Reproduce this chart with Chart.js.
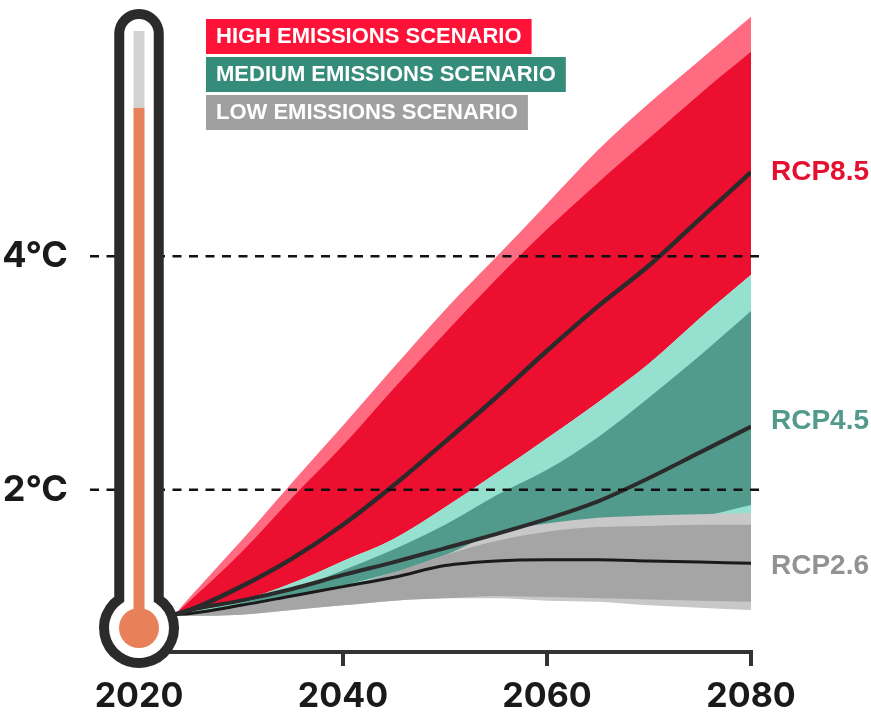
<!DOCTYPE html>
<html lang="en">
<head>
<meta charset="UTF-8">
<title>Emissions scenarios</title>
<script src="https://cdn.jsdelivr.net/npm/chart.js"></script>
<style>
    html, body { margin: 0; padding: 0; background: #fff; }
    canvas { display: block; }
</style>
</head>
<body>
<canvas id="tempChart" width="871" height="713"></canvas>
<script>
// Values in degrees C
const years = [2023.5, 2025, 2030, 2035, 2040, 2045, 2050, 2055, 2060, 2065, 2070, 2075, 2080];

const rcp85Max = [0.93, 1.08, 1.56, 2.06, 2.55, 3.05, 3.54, 3.99, 4.45, 4.91, 5.31, 5.68, 6.05];
const rcp85High = [0.93, 1.05, 1.46, 1.93, 2.38, 2.87, 3.34, 3.80, 4.23, 4.63, 5.01, 5.39, 5.75];
const rcp85Mean = [0.93, 0.97, 1.17, 1.41, 1.70, 2.04, 2.41, 2.79, 3.19, 3.57, 3.92, 4.32, 4.72];
const rcp85Low = [0.93, 0.97, 1.05, 1.20, 1.39, 1.58, 1.85, 2.14, 2.44, 2.75, 3.08, 3.47, 3.84];

const rcp45High = [0.93, 0.95, 1.03, 1.14, 1.31, 1.49, 1.70, 1.95, 2.17, 2.45, 2.79, 3.15, 3.53];
const rcp45Mean = [0.93, 0.97, 1.05, 1.15, 1.27, 1.38, 1.50, 1.62, 1.75, 1.90, 2.10, 2.32, 2.54];
const rcp45Low = [0.93, 0.94, 0.99, 1.08, 1.18, 1.29, 1.41, 1.52, 1.63, 1.70, 1.74, 1.77, 1.87];
const rcp45Min = [0.93, 0.93, 0.97, 1.03, 1.10, 1.18, 1.27, 1.40, 1.52, 1.61, 1.67, 1.74, 1.78];

const rcp26Max = [0.93, 0.95, 1.00, 1.08, 1.17, 1.29, 1.44, 1.63, 1.71, 1.76, 1.78, 1.79, 1.80];
const rcp26High = [0.93, 0.95, 1.00, 1.08, 1.17, 1.29, 1.44, 1.56, 1.64, 1.68, 1.69, 1.70, 1.70];
const rcp26Mean = [0.93, 0.94, 1.01, 1.09, 1.17, 1.25, 1.35, 1.39, 1.40, 1.40, 1.39, 1.38, 1.37];
const rcp26Low = [0.93, 0.92, 0.93, 0.97, 1.01, 1.05, 1.07, 1.09, 1.08, 1.07, 1.06, 1.05, 1.04];
const rcp26Min = [0.93, 0.92, 0.93, 0.97, 1.01, 1.05, 1.07, 1.07, 1.05, 1.04, 1.01, 0.99, 0.97];

const xTicks = [2020, 2040, 2060, 2080];
const yTicks = [2, 4];
const refLines = [2, 4];
const thermometerLevel = 5.27;

const legendLabels = ['HIGH EMISSIONS SCENARIO', 'MEDIUM EMISSIONS SCENARIO', 'LOW EMISSIONS SCENARIO'];
const legendColors = ['#ff1238', '#358c7b', '#a0a0a0'];
const endLabels = ['RCP8.5', 'RCP4.5', 'RCP2.6'];
const endLabelValues = [4.72, 2.59, 1.34];
const endLabelColors = ['#e5102f', '#529b8c', '#929292'];

function points(values) {
    return values.map((v, i) => ({ x: years[i], y: v }));
}

function meanLine(values, width, color) {
    return {
        data: points(values),
        borderColor: color,
        borderWidth: width,
        pointRadius: 0,
        fill: false,
        cubicInterpolationMode: 'monotone'
    };
}

// A band is its upper edge filled down to the next dataset in the list
function band(upper, lower, color) {
    return [
        {
            data: points(upper),
            backgroundColor: color,
            borderWidth: 0,
            pointRadius: 0,
            fill: '+1',
            cubicInterpolationMode: 'monotone'
        },
        {
            data: points(lower),
            borderWidth: 0,
            pointRadius: 0,
            fill: false,
            cubicInterpolationMode: 'monotone'
        }
    ];
}

// First dataset in the list ends up on top
const datasets = [
    meanLine(rcp85Mean, 4.5, '#2b2b2b'),
    meanLine(rcp45Mean, 4, '#2b2b2b'),
    meanLine(rcp26Mean, 3, '#1a1a1a'),
    ...band(rcp26High, rcp26Low, '#a5a5a5'),
    ...band(rcp26Max, rcp26Min, '#c8c8c8'),
    ...band(rcp45High, rcp45Low, '#529b8c'),
    ...band(rcp85Low, rcp45Min, '#96e0d0'),
    ...band(rcp85High, rcp85Low, '#ec0f2f'),
    ...band(rcp85Max, rcp85Low, '#ff6b80')
];

const refLinePlugin = {
    id: 'refLines',
    afterDatasetsDraw(chart) {
        const ctx = chart.ctx;
        ctx.save();
        ctx.strokeStyle = '#111';
        ctx.lineWidth = 2.5;
        ctx.setLineDash([9, 7.5]);
        refLines.forEach(v => {
            const y = chart.scales.y.getPixelForValue(v);
            ctx.beginPath();
            ctx.moveTo(90, y);
            ctx.lineTo(759, y);
            ctx.stroke();
        });
        ctx.restore();
    }
};

const thermometerPlugin = {
    id: 'thermometer',
    afterDraw(chart) {
        const ctx = chart.ctx;
        const cx = chart.scales.x.getPixelForValue(2020);
        const bulbY = 628;
        const tubeR = 19.75;
        const topY = 33.75;
        const gap = Math.asin(tubeR / 35);
        ctx.save();

        // glass outline
        ctx.beginPath();
        ctx.arc(cx, bulbY, 35, -Math.PI / 2 + gap, 1.5 * Math.PI - gap);
        ctx.lineTo(cx - tubeR, topY);
        ctx.arc(cx, topY, tubeR, Math.PI, 2 * Math.PI);
        ctx.closePath();
        ctx.fillStyle = '#fff';
        ctx.fill();
        ctx.strokeStyle = '#2b2b2b';
        ctx.lineWidth = 10;
        ctx.stroke();

        // mercury
        const level = chart.scales.y.getPixelForValue(thermometerLevel);
        ctx.fillStyle = '#d3d3d3';
        ctx.fillRect(cx - 5.5, 31, 11, level - 31);
        ctx.fillStyle = '#e8805a';
        ctx.fillRect(cx - 5.5, level, 11, bulbY - level);
        ctx.beginPath();
        ctx.arc(cx, bulbY, 20, 0, 2 * Math.PI);
        ctx.fill();
        ctx.restore();
    }
};

const labelPlugin = {
    id: 'labels',
    afterDraw(chart) {
        const ctx = chart.ctx;
        ctx.save();
        ctx.textBaseline = 'middle';
        ctx.textAlign = 'left';

        ctx.font = 'bold 22px "Liberation Sans"';
        legendLabels.forEach((label, i) => {
            const top = 19 + i * 38;
            ctx.fillStyle = legendColors[i];
            ctx.fillRect(206, top, ctx.measureText(label).width + 20, 35);
            ctx.fillStyle = '#fff';
            ctx.fillText(label, 216, top + 18);
        });

        ctx.font = 'bold 28px "Liberation Sans"';
        endLabels.forEach((label, i) => {
            ctx.fillStyle = endLabelColors[i];
            ctx.fillText(label, 771, chart.scales.y.getPixelForValue(endLabelValues[i]));
        });
        ctx.restore();
    }
};

new Chart(document.getElementById('tempChart').getContext('2d'), {
    type: 'line',
    data: { datasets: datasets },
    plugins: [refLinePlugin, thermometerPlugin, labelPlugin],
    options: {
        responsive: false,
        animation: false,
        layout: { padding: { top: 11, right: 120 } },
        plugins: { legend: { display: false }, tooltip: { enabled: false } },
        scales: {
            x: {
                type: 'linear',
                min: 2020,
                max: 2080,
                afterBuildTicks: axis => { axis.ticks = xTicks.map(v => ({ value: v })); },
                afterFit: axis => { axis.height = 61; },
                grid: { drawOnChartArea: false, tickLength: 14, tickColor: '#333', lineWidth: 4 },
                border: { display: true, color: '#333', width: 4 },
                ticks: {
                    autoSkip: false,
                    maxRotation: 0,
                    padding: 10,
                    color: '#1a1a1a',
                    font: { family: 'Inter', weight: '700', size: 34 },
                    callback: v => String(v)
                }
            },
            y: {
                min: 0.61,
                max: 6.1,
                afterBuildTicks: axis => { axis.ticks = yTicks.map(v => ({ value: v })); },
                afterFit: axis => {
                    axis.width = 139;
                    // tick padding would otherwise shrink the plot height
                    axis.paddingTop = 0;
                    axis.paddingBottom = 0;
                },
                grid: { display: false },
                border: { display: false },
                ticks: {
                    padding: 63,
                    color: '#1a1a1a',
                    font: { family: 'Inter', weight: '700', size: 36 },
                    callback: v => v + '°C'
                }
            }
        }
    }
});
</script>
</body>
</html>
